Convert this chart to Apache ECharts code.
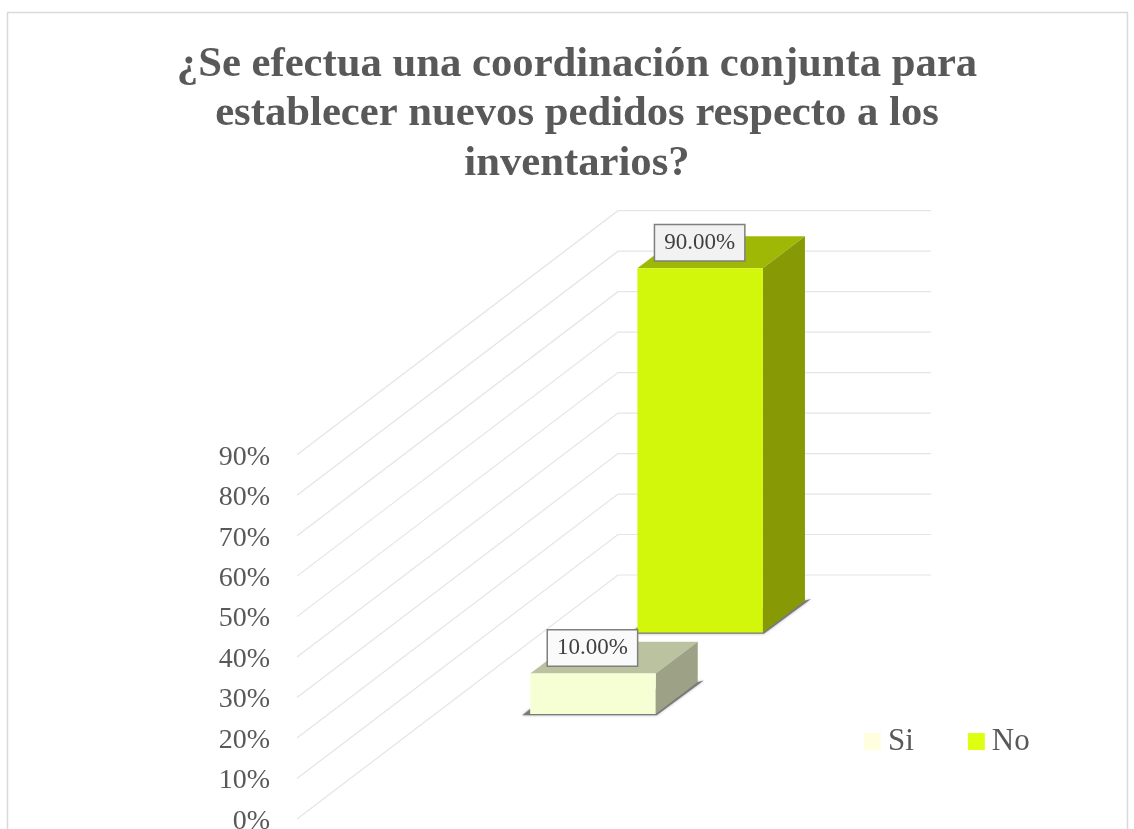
<!DOCTYPE html>
<html>
<head>
<meta charset="utf-8">
<style>html,body{margin:0;padding:0;background:#fff;overflow:hidden}#chart{width:1134px;height:829px}</style>
<script src="https://cdn.jsdelivr.net/npm/echarts@6/dist/echarts.min.js"></script>
</head>
<body>
<div id="chart"></div>
<script>
// Values
const titleText = '¿Se efectua una coordinación conjunta para\nestablecer nuevos pedidos respecto a los\ninventarios?';
const categories = ['Si', 'No'];
const values = [10, 90];
const yTicks = [0, 10, 20, 30, 40, 50, 60, 70, 80, 90];

// Oblique projection of the 3D box: depth 0..1 shifts a point along this vector
const DEPTH_VEC = [321, -244];
const BAR_LATERAL = [0.304, 0.705];
const BAR_DEPTH = [[0.430, 0.561], [0.764, 0.895]];
const FACE_COLORS = [
  { front: '#f6ffd4', side: '#9da185', top: '#bbc29f', legend: '#ffffdf', labelBg: '#fafafa' },
  { front: '#d2f70a', side: '#879a05', top: '#9fb805', legend: '#deff12', labelBg: '#f2f2f2' }
];
const SERIF = '"Liberation Serif", "Times New Roman", serif';

function project(api, lateral, depth, value) {
  const p = api.coord([lateral, value]);
  return [p[0] + depth * DEPTH_VEC[0], p[1] + depth * DEPTH_VEC[1]];
}

function renderWall(params, api) {
  const v = api.value(0);
  return {
    type: 'polyline',
    shape: { points: [project(api, 0, 0, v), project(api, 0, 1, v), project(api, 1, 1, v)] },
    style: { fill: 'none', stroke: '#e5e5e5', lineWidth: 1.2 }
  };
}

function renderBox(index) {
  return function (params, api) {
    const v = api.value(0);
    const c = FACE_COLORS[index];
    const [l0, l1] = BAR_LATERAL;
    const [d0, d1] = BAR_DEPTH[index];
    const fb0 = project(api, l0, d0, 0), fb1 = project(api, l1, d0, 0);
    const ft0 = project(api, l0, d0, v), ft1 = project(api, l1, d0, v);
    const bb1 = project(api, l1, d1, 0);
    const bt0 = project(api, l0, d1, v), bt1 = project(api, l1, d1, v);
    const poly = (pts, fill) => ({ type: 'polygon', shape: { points: pts }, style: { fill } });
    return {
      type: 'group',
      children: [
        {
          // soft contact shadow along the base of the box
          type: 'polygon',
          shape: { points: [
            [fb0[0] - 8, fb0[1] + 1.2], [fb1[0] + 1, fb1[1] + 1.2],
            [bb1[0] + 6, bb1[1] - 1.5], [bb1[0], bb1[1]], [fb0[0], fb0[1] - 5]
          ] },
          style: { fill: '#7a7a7a', shadowBlur: 3, shadowColor: 'rgba(0,0,0,0.3)' }
        },
        poly([ft0, ft1, bt1, bt0], c.top),
        poly([fb1, bb1, bt1, ft1], c.side),
        poly([fb0, fb1, ft1, ft0], c.front),
        {
          type: 'text',
          style: {
            text: v.toFixed(2) + '%',
            x: (ft0[0] + ft1[0]) / 2 - 0.5,
            y: ft0[1] - 25.5,
            align: 'center',
            verticalAlign: 'middle',
            font: '23px ' + SERIF,
            fill: '#404040',
            backgroundColor: c.labelBg,
            borderColor: '#7f7f7f',
            borderWidth: 1.5,
            padding: [6, 9, 6, 9]
          }
        }
      ]
    };
  };
}

const chart = echarts.init(document.getElementById('chart'), null, { renderer: 'canvas' });
chart.setOption({
  animation: false,
  backgroundColor: '#fff',
  graphic: [{
    type: 'rect',
    silent: true,
    shape: { x: 7.5, y: 12.5, width: 1120, height: 840 },
    style: { fill: 'none', stroke: '#d9d9d9', lineWidth: 1.5 }
  }],
  title: {
    text: titleText,
    left: 572,
    top: 35,
    textAlign: 'center',
    textStyle: { fontFamily: SERIF, fontWeight: 'bold', fontSize: 42.7, lineHeight: 49.5, color: '#595959' }
  },
  legend: {
    data: categories,
    left: 859,
    top: 721,
    icon: 'rect',
    itemWidth: 17,
    itemHeight: 17,
    itemGap: 54,
    selectedMode: false,
    textStyle: { fontFamily: SERIF, fontSize: 31, color: '#595959', padding: [4, 0, 0, 2] }
  },
  grid: { left: 297, top: 454.7, width: 313, height: 364.3, outerBoundsMode: 'none' },
  xAxis: { type: 'value', min: 0, max: 1, show: false },
  yAxis: {
    type: 'value',
    min: 0,
    max: 90,
    interval: 10,
    axisLine: { show: false },
    axisTick: { show: false },
    splitLine: { show: false },
    axisLabel: {
      margin: 27,
      formatter: v => `{t|${v}%}`,
      rich: {
        t: { fontFamily: SERIF, fontSize: 28, color: '#595959', padding: [5, 0, 0, 0] }
      }
    }
  },
  series: [
    {
      type: 'custom',
      name: 'walls',
      silent: true,
      z: 1,
      renderItem: renderWall,
      encode: { y: 0 },
      data: yTicks.map(v => [v])
    },
    ...categories.map((name, i) => ({
      type: 'custom',
      name,
      silent: true,
      z: 4 - i,
      itemStyle: { color: FACE_COLORS[i].legend },
      renderItem: renderBox(i),
      encode: { y: 0 },
      data: [[values[i]]]
    }))
  ]
});
</script>
</body>
</html>
